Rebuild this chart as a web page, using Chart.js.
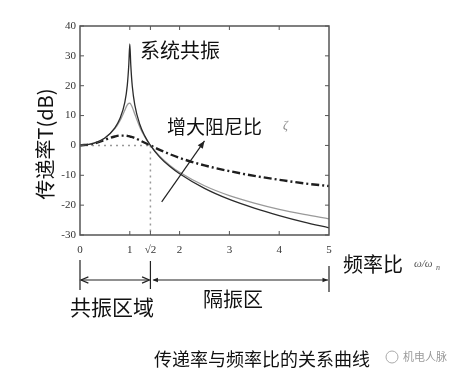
<!DOCTYPE html>
<html>
<head>
<meta charset="utf-8">
<script src="https://cdn.jsdelivr.net/npm/chart.js@4"></script>
<style>
html, body { margin: 0; padding: 0; background: #fff; }
</style>
</head>
<body>
<canvas id="grafico" width="462" height="375"></canvas>
<script>
// frequency ratio w/wn and transmissibility in dB
const freqRatio = [0, 0.25, 0.5, 0.7, 0.8, 0.9, 0.95, 0.98, 1, 1.02, 1.05, 1.1, 1.2, 1.3, 1.414, 1.6, 1.8, 2, 2.5, 3, 3.5, 4, 4.5, 5]
const lowDamping = [0, 0.6, 2.5, 5.9, 8.9, 14.4, 20.2, 27.1, 34, 26.9, 19.8, 13.6, 7.1, 3.2, 0, -3.9, -7, -9.5, -14.4, -18.1, -21, -23.5, -25.7, -27.6]
const midDamping = [0, 0.6, 2.5, 5.6, 8.2, 11.8, 13.6, 14.1, 14.2, 13.8, 12.8, 10.5, 6.2, 2.9, 0, -3.6, -6.6, -9, -13.5, -16.8, -19.3, -21.4, -23.1, -24.6]
const highDamping = [0, 0.5, 1.9, 3, 3.3, 3.3, 3.2, 3.1, 3, 2.9, 2.8, 2.5, 1.7, 0.9, 0, -1.5, -2.9, -4.2, -6.7, -8.6, -10.2, -11.5, -12.7, -13.6]

const xTicks = [0, 1, 1.414, 2, 3, 4, 5]
const xTickLabels = ['0', '1', '√2', '2', '3', '4', '5']
const yTicks = [-30, -20, -10, 0, 10, 20, 30, 40]

// guide lines (dotted) and the "more damping" arrow, in data units
const zeroGuideX = [0, 1.414]
const zeroGuideY = [0, 0]
const crossGuideX = [1.414, 1.414]
const crossGuideY = [0, -30]
const dampArrow = [1.64, -18.9, 2.5, 1.5]

const pts = (xs, ys) => xs.map((x, i) => ({ x: x, y: ys[i] }))

const tickFont = { family: 'Liberation Serif', size: 11 }
const cjk = '"Noto Sans CJK SC", "Noto Sans", sans-serif'

function arrowHead(ctx, x1, y1, x2, y2, size, filled) {
    const a = Math.atan2(y2 - y1, x2 - x1)
    ctx.beginPath()
    ctx.moveTo(x2 - size * Math.cos(a - 0.4), y2 - size * Math.sin(a - 0.4))
    ctx.lineTo(x2, y2)
    ctx.lineTo(x2 - size * Math.cos(a + 0.4), y2 - size * Math.sin(a + 0.4))
    if (filled) {
        ctx.closePath()
        ctx.fill()
    } else {
        ctx.stroke()
    }
}

const extras = {
    id: 'extras',
    afterDatasetsDraw(chart) {
        const ctx = chart.ctx
        const ca = chart.chartArea
        const sx = chart.scales.x
        const sy = chart.scales.y
        ctx.save()

        // box + inside ticks
        ctx.strokeStyle = '#555'
        ctx.lineWidth = 1.5
        ctx.strokeRect(ca.left, ca.top, ca.right - ca.left, ca.bottom - ca.top)
        ctx.lineWidth = 1
        yTicks.forEach(v => {
            const py = sy.getPixelForValue(v)
            ctx.beginPath()
            ctx.moveTo(ca.left, py); ctx.lineTo(ca.left + 4, py)
            ctx.moveTo(ca.right, py); ctx.lineTo(ca.right - 4, py)
            ctx.stroke()
        })
        xTicks.forEach(v => {
            if (v === 0 || v === 5) return
            const px = sx.getPixelForValue(v)
            ctx.beginPath()
            ctx.moveTo(px, ca.bottom); ctx.lineTo(px, ca.bottom - 4)
            ctx.moveTo(px, ca.top); ctx.lineTo(px, ca.top + 4)
            ctx.stroke()
        })

        // damping arrow
        const ax1 = sx.getPixelForValue(dampArrow[0]), ay1 = sy.getPixelForValue(dampArrow[1])
        const ax2 = sx.getPixelForValue(dampArrow[2]), ay2 = sy.getPixelForValue(dampArrow[3])
        ctx.strokeStyle = '#222'
        ctx.fillStyle = '#222'
        ctx.lineWidth = 1.2
        ctx.beginPath()
        ctx.moveTo(ax1, ay1); ctx.lineTo(ax2, ay2)
        ctx.stroke()
        arrowHead(ctx, ax1, ay1, ax2, ay2, 8, true)

        // texts inside / around the plot
        ctx.fillStyle = '#111'
        ctx.textBaseline = 'middle'
        ctx.textAlign = 'left'
        ctx.font = '20px ' + cjk
        ctx.fillText('系统共振', 140, 50)
        ctx.font = '19px ' + cjk
        ctx.fillText('增大阻尼比', 167, 127)
        ctx.fillStyle = '#888'
        ctx.font = 'italic 12px "Liberation Serif"'
        ctx.fillText('ζ', 283, 126)

        ctx.fillStyle = '#111'
        ctx.save()
        ctx.translate(45, 144)
        ctx.rotate(-Math.PI / 2)
        ctx.textAlign = 'center'
        ctx.font = '20px ' + cjk
        ctx.fillText('传递率T(dB)', 0, 0)
        ctx.restore()

        ctx.font = '20px ' + cjk
        ctx.fillText('频率比', 343, 264)
        ctx.fillStyle = '#555'
        ctx.font = 'italic 11px "Liberation Serif"'
        ctx.fillText('ω/ω', 414, 264)
        ctx.font = 'italic 8px "Liberation Serif"'
        ctx.fillText('n', 436, 268)

        // resonance / isolation ranges
        const p0 = sx.getPixelForValue(0)
        const pr = sx.getPixelForValue(1.414)
        const p5 = sx.getPixelForValue(5)
        const ry = 280
        ctx.strokeStyle = '#222'
        ctx.fillStyle = '#222'
        ctx.lineWidth = 1.2
        ctx.beginPath()
        ctx.moveTo(p0, 260); ctx.lineTo(p0, 290)
        ctx.moveTo(pr, 261); ctx.lineTo(pr, 289)
        ctx.moveTo(p5, 266); ctx.lineTo(p5, 292)
        ctx.moveTo(p0 + 1, ry); ctx.lineTo(pr - 1, ry)
        ctx.moveTo(pr + 3, ry); ctx.lineTo(p5 - 1, ry)
        ctx.stroke()
        arrowHead(ctx, pr, ry, p0 + 1, ry, 8, false)
        arrowHead(ctx, p0, ry, pr - 1, ry, 8, false)
        arrowHead(ctx, p5, ry, pr + 2, ry, 6, true)
        arrowHead(ctx, pr, ry, p5 - 1, ry, 6, true)

        ctx.fillStyle = '#111'
        ctx.font = '21px ' + cjk
        ctx.fillText('共振区域', 70, 307)
        ctx.font = '20px ' + cjk
        ctx.fillText('隔振区', 203, 299)

        // caption + watermark
        ctx.font = '18px ' + cjk
        ctx.fillText('传递率与频率比的关系曲线', 154, 359)
        ctx.fillStyle = '#999'
        ctx.strokeStyle = '#aaa'
        ctx.lineWidth = 1
        ctx.beginPath()
        ctx.arc(392, 357, 6, 0, Math.PI * 2)
        ctx.stroke()
        ctx.font = '11px ' + cjk
        ctx.fillText('机电人脉', 403, 357)

        ctx.restore()
    }
}

const config = {
    type: 'line',
    data: {
        datasets: [
            {
                label: '小阻尼',
                data: pts(freqRatio, lowDamping),
                borderColor: '#2b2b2b',
                borderWidth: 1.3,
                pointRadius: 0,
                cubicInterpolationMode: 'monotone'
            },
            {
                label: '中阻尼',
                data: pts(freqRatio, midDamping),
                borderColor: '#9a9a9a',
                borderWidth: 1.3,
                pointRadius: 0,
                cubicInterpolationMode: 'monotone'
            },
            {
                label: '大阻尼',
                data: pts(freqRatio, highDamping),
                borderColor: '#1e1e1e',
                borderWidth: 2.4,
                borderDash: [8, 3, 2, 3],
                pointRadius: 0,
                cubicInterpolationMode: 'monotone'
            },
            {
                label: '0dB',
                data: pts(zeroGuideX, zeroGuideY),
                borderColor: '#999',
                borderWidth: 1.5,
                borderDash: [2, 4],
                pointRadius: 0
            },
            {
                label: '√2',
                data: pts(crossGuideX, crossGuideY),
                borderColor: '#999',
                borderWidth: 1.5,
                borderDash: [2, 4],
                pointRadius: 0
            }
        ]
    },
    options: {
        responsive: false,
        animation: false,
        layout: { padding: { left: 0, top: 26, right: 133, bottom: 114 } },
        plugins: { legend: { display: false }, tooltip: { enabled: false } },
        scales: {
            x: {
                type: 'linear',
                min: 0,
                max: 5,
                afterBuildTicks: s => { s.ticks = xTicks.map(v => ({ value: v })) },
                afterFit: s => { s.height = 26 },
                ticks: {
                    callback: (v, i) => xTickLabels[i],
                    autoSkip: false,
                    maxRotation: 0,
                    padding: 9,
                    color: '#333',
                    font: tickFont
                },
                grid: { display: false, drawTicks: false, tickLength: 0 },
                border: { display: false }
            },
            y: {
                min: -30,
                max: 40,
                afterBuildTicks: s => { s.ticks = yTicks.map(v => ({ value: v })) },
                afterFit: s => { s.width = 80 },
                ticks: {
                    padding: 4,
                    color: '#333',
                    font: tickFont
                },
                grid: { display: false, drawTicks: false, tickLength: 0 },
                border: { display: false }
            }
        }
    },
    plugins: [extras]
}

const chart = new Chart(document.getElementById('grafico'), config)
</script>
</body>
</html>
